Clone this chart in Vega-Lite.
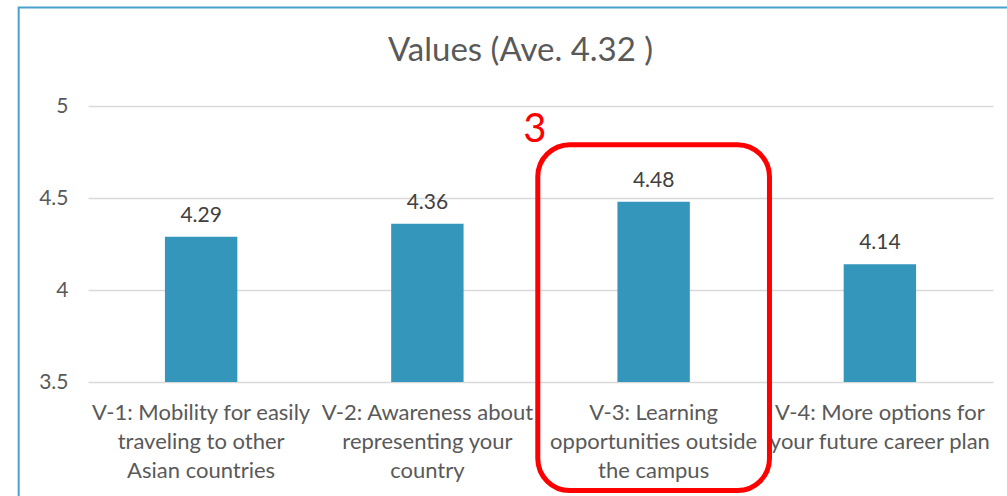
{
  "$schema": "https://vega.github.io/schema/vega-lite/v6.json",
  "width": 905,
  "height": 276,
  "autosize": "none",
  "padding": {"left": 88, "top": 106, "right": 14, "bottom": 114},
  "background": "white",
  "config": {"view": {"stroke": null}, "font": "Lato"},
  "title": {
    "text": "Values (Ave. 4.32 )",
    "fontSize": 33,
    "font": "Lato",
    "fontWeight": "normal",
    "color": "#595959",
    "anchor": "middle",
    "dx": -20,
    "baseline": "alphabetic",
    "offset": -87
  },
  "data": {
    "values": [
      {"item": "V-1: Mobility for easily|traveling to other|Asian countries", "score": 4.29},
      {"item": "V-2: Awareness about|representing your|country", "score": 4.36},
      {"item": "V-3: Learning|opportunities outside|the campus", "score": 4.48},
      {"item": "V-4: More options for|your future career plan", "score": 4.14}
    ]
  },
  "layer": [
    {
      "mark": {"type": "bar", "color": "#3596bc"},
      "encoding": {
        "x": {
          "field": "item",
          "type": "nominal",
          "sort": null,
          "scale": {"paddingInner": 0.68, "paddingOuter": 0.34},
          "axis": {
            "title": null,
            "labelExpr": "split(datum.label, '|')",
            "labelFontSize": 22,
            "labelColor": "#595959",
            "labelFont": "Lato",
            "labelAngle": 0,
            "labelPadding": 20,
            "labelLimit": 400,
            "labelLineHeight": 29,
            "labelBaseline": "top",
            "labelOverlap": false,
            "ticks": false,
            "domain": false
          }
        },
        "y": {
          "field": "score",
          "type": "quantitative",
          "scale": {"domain": [3.5, 5], "nice": false, "zero": false},
          "axis": {
            "title": null,
            "values": [3.5, 4, 4.5, 5],
            "labelExpr": "'' + datum.value",
            "labelFontSize": 21,
            "labelColor": "#595959",
            "labelFont": "Lato",
            "labelPadding": 20,
            "ticks": false,
            "domain": false,
            "gridColor": "#d9d9d9",
            "gridWidth": 1.5
          }
        },
        "y2": {"datum": 3.5}
      }
    },
    {
      "mark": {"type": "text", "baseline": "bottom", "dy": -11, "fontSize": 21, "color": "#404040", "font": "Lato"},
      "encoding": {
        "x": {"field": "item", "type": "nominal", "sort": null},
        "y": {"field": "score", "type": "quantitative"},
        "text": {"field": "score", "type": "quantitative", "format": ".2f"}
      }
    },
    {
      "data": {"values": [{}]},
      "mark": {"type": "bar", "filled": false, "stroke": "#ff0000", "strokeWidth": 5, "cornerRadius": 32, "width": {"band": 3.2}, "clip": false},
      "encoding": {
        "x": {"datum": "V-3: Learning|opportunities outside|the campus", "type": "nominal"},
        "y": {"datum": 4.79, "type": "quantitative"},
        "y2": {"datum": 2.91}
      }
    },
    {
      "data": {"values": [{"label": "3"}]},
      "mark": {"type": "text", "fontSize": 40, "color": "#ff0000", "align": "center", "baseline": "middle", "font": "Lato"},
      "encoding": {
        "x": {"datum": "V-3: Learning|opportunities outside|the campus", "type": "nominal", "bandPosition": -1.14},
        "y": {"datum": 4.87, "type": "quantitative"},
        "text": {"field": "label"}
      }
    },
    {
      "data": {"values": [{}]},
      "mark": {"type": "rect", "filled": false, "stroke": "#4ba1cd", "strokeWidth": 2, "clip": false},
      "encoding": {
        "x": {"datum": "V-1: Mobility for easily|traveling to other|Asian countries", "type": "nominal", "bandPosition": -2.02},
        "x2": {"datum": "V-4: More options for|your future career plan", "bandPosition": 3},
        "y": {"datum": 5.535, "type": "quantitative"},
        "y2": {"datum": 2.5}
      }
    }
  ]
}
